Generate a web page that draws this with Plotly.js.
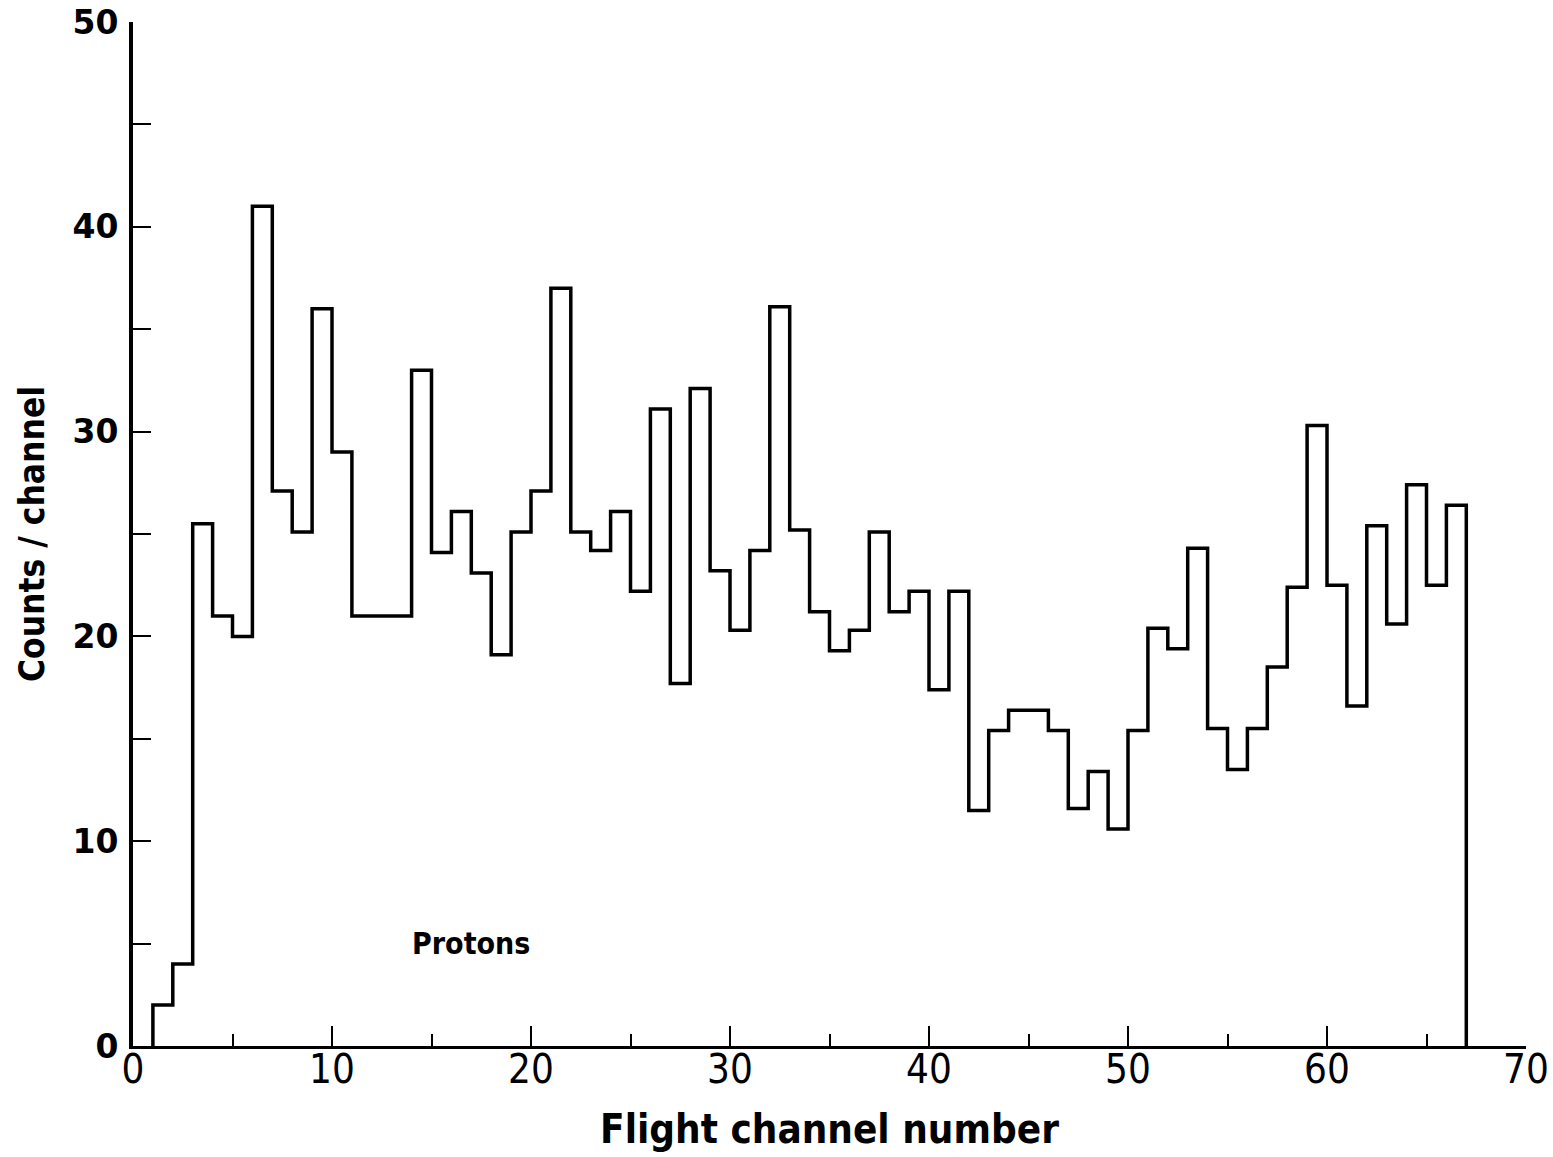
<!DOCTYPE html>
<html>
<head>
<meta charset="utf-8">
<script src="https://cdn.plot.ly/plotly-3.0.1.min.js"></script>
<style>html,body{margin:0;padding:0;background:#fff;}#chart{width:1553px;height:1157px;}</style>
</head>
<body>
<div id="chart"></div>
<script>
// Lower edge of each flight channel (bin width 1)
const channels = [1,2,3,4,5,6,7,8,9,10,11,12,13,14,15,16,17,18,19,20,21,22,23,24,25,26,27,28,29,30,31,32,33,34,35,36,37,38,39,40,41,42,43,44,45,46,47,48,49,50,51,52,53,54,55,56,57,58,59,60,61,62,63,64,65,66];
// Counts per channel
const counts = [2,4,25.5,21,20,41,27.1,25.1,36,29,21,21,21,33,24.1,26.1,23.1,19.1,25.1,27.1,37,25.1,24.2,26.1,22.2,31.1,17.7,32.1,23.2,20.3,24.2,36.1,25.2,21.2,19.3,20.3,25.1,21.2,22.2,17.4,22.2,11.5,15.4,16.4,16.4,15.4,11.6,13.4,10.6,15.4,20.4,19.4,24.3,15.5,13.5,15.5,18.5,22.4,30.3,22.5,16.6,25.4,20.6,27.4,22.5,26.4];
const binWidth = 1;
const xTickVals = [0,10,20,30,40,50,60,70];
const yTickVals = [0,10,20,30,40,50];
const xTitle = "Flight channel number";
const yTitle = "Counts / channel";
const label = "Protons";

// Build step outline
const xs = [channels[0]];
const ys = [0];
for (let i = 0; i < channels.length; i++) { xs.push(channels[i]); ys.push(counts[i]); }
const lastEdge = channels[channels.length-1] + binWidth;
xs.push(lastEdge); ys.push(counts[counts.length-1]);
xs.push(lastEdge); ys.push(0);

const wideFam = '"DejaVu Sans", sans-serif';
const narrowFam = '"DejaVu Sans Condensed", "DejaVu Sans", sans-serif';

const trace = {
  x: xs, y: ys, type: 'scatter', mode: 'lines',
  line: {shape: 'hv', color: '#000', width: 3.5},
  hoverinfo: 'skip', showlegend: false
};

const layout = {
  width: 1553, height: 1157,
  margin: {l: 133, r: 27, t: 22, b: 111},
  paper_bgcolor: '#fff', plot_bgcolor: '#fff',
  xaxis: {
    range: [0, 70], tickvals: xTickVals, ticktext: xTickVals.map(String),
    ticks: 'inside', ticklen: 20, tickwidth: 2, tickcolor: '#000',
    minor: {tickvals: [5,15,25,35,45,55,65], ticks: 'inside', ticklen: 12, tickwidth: 2, tickcolor: '#000'},
    showline: true, linewidth: 3, linecolor: '#000', showgrid: false, zeroline: false,
    ticklabelstandoff: -14,
    tickfont: {family: narrowFam, size: 40, color: '#000'},
    title: {text: xTitle, font: {family: narrowFam, size: 40, color: '#000', weight: 'bold'}, standoff: 24}
  },
  yaxis: {
    range: [0, 50], tickvals: yTickVals, ticktext: yTickVals.map(String),
    ticks: 'inside', ticklen: 18, tickwidth: 2, tickcolor: '#000',
    minor: {tickvals: [5,15,25,35,45], ticks: 'inside', ticklen: 18, tickwidth: 2, tickcolor: '#000'},
    showline: true, linewidth: 4, linecolor: '#000', showgrid: false, zeroline: false,
    ticklabelstandoff: 4,
    tickfont: {family: wideFam, size: 33, color: '#000', weight: 'bold'},
    title: {text: yTitle, font: {family: narrowFam, size: 35, color: '#000', weight: 'bold'}, standoff: 18}
  },
  annotations: [{
    x: 17, y: 5.0, xref: 'x', yref: 'y', text: label, showarrow: false,
    font: {family: narrowFam, size: 30, color: '#000', weight: 'bold'}
  }]
};

Plotly.newPlot('chart', [trace], layout, {displayModeBar: false, staticPlot: true});
</script>
</body>
</html>
